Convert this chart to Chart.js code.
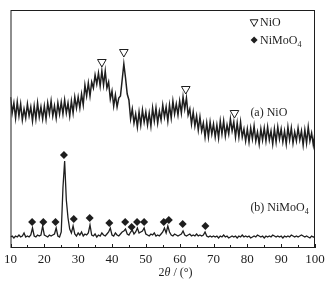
<!DOCTYPE html>
<html>
<head>
<meta charset="utf-8">
<script src="https://cdn.jsdelivr.net/npm/chart.js@4/dist/chart.umd.min.js"></script>
<style>
  html, body { margin: 0; padding: 0; background: #fff; }
  #wrap { width: 331px; height: 287px; }
</style>
</head>
<body>
<div id="wrap"><canvas id="xrd"></canvas></div>
<script>
// 2theta grid of the scans (degrees)
const angleStart = 10;
const angleStep = 0.5;

// (a) NiO scan, relative intensity (arb. units)
const nioCounts = [
  151, 135, 145, 130, 146, 132, 144, 128, 139, 130,
  144, 132, 141, 127, 142, 129, 145, 131, 141, 129,
  142, 129, 145, 134, 147, 132, 142, 130, 145, 134,
  146, 134, 148, 135, 145, 132, 147, 135, 151, 140,
  151, 140, 154, 143, 163, 152, 165, 152, 166, 160,
  173, 164, 175, 162, 177, 163, 177, 160, 166, 149,
  157, 142, 153, 141, 150, 152, 168, 184, 170, 154,
  148, 129, 139, 125, 134, 121, 136, 123, 138, 126,
  136, 123, 135, 122, 140, 127, 140, 125, 137, 128,
  143, 131, 141, 127, 143, 130, 147, 134, 144, 133,
  147, 135, 151, 139, 150, 133, 139, 124, 136, 122,
  132, 118, 131, 117, 125, 111, 125, 111, 126, 114,
  124, 111, 123, 110, 127, 114, 127, 112, 123, 114,
  129, 117, 126, 111, 125, 111, 126, 111, 119, 107,
  119, 106, 120, 109, 122, 107, 116, 104, 119, 108,
  120, 107, 121, 108, 117, 104, 119, 106, 121, 109,
  119, 106, 117, 104, 121, 108, 120, 105, 116, 107,
  120, 108, 117, 103, 118, 105, 121, 107, 115, 103,
  116
];

// (b) NiMoO4 scan, relative intensity (arb. units)
const nimoo4Counts = [
  11, 12, 10, 12, 11, 13, 11, 12, 15, 11,
  12, 11, 13, 20, 12, 11, 13, 12, 13, 22,
  13, 12, 11, 13, 12, 13, 14, 20, 12, 11,
  16, 60, 87, 48, 30, 19, 15, 22, 14, 12,
  15, 13, 16, 12, 14, 13, 15, 23, 13, 12,
  14, 11, 13, 12, 15, 13, 12, 14, 16, 20,
  13, 12, 15, 13, 12, 14, 16, 17, 19, 14,
  13, 16, 18, 14, 16, 20, 15, 16, 17, 20,
  14, 13, 12, 14, 13, 15, 12, 13, 12, 14,
  16, 20, 15, 22, 16, 13, 12, 14, 13, 12,
  13, 14, 17, 13, 12, 13, 14, 12, 13, 12,
  14, 12, 13, 12, 13, 16, 12, 11, 12, 11,
  12, 11, 12, 10, 12, 11, 13, 11, 12, 10,
  11, 12, 11, 12, 10, 12, 11, 13, 11, 12,
  11, 12, 10, 11, 12, 11, 13, 12, 11, 12,
  10, 12, 11, 12, 11, 13, 12, 11, 12, 11,
  12, 10, 12, 11, 12, 11, 13, 12, 11, 12,
  11, 12, 13, 12, 11, 12, 11, 10, 12, 11,
  11
];

// peak markers
const nioPeakAngles = [37.0, 43.5, 61.8, 76.2];
const nioPeakLevels = [186, 196, 159, 135];
const nimoo4PeakAngles = [16.4, 19.7, 23.3, 25.8, 28.7, 33.4, 39.2, 43.9, 45.8, 47.4, 49.5, 55.3, 56.8, 60.9, 67.6];
const nimoo4PeakLevels = [26, 26, 26, 93, 29, 30, 25, 26, 21, 26, 26, 26, 28, 24, 22];

const xTicks = [10, 20, 30, 40, 50, 60, 70, 80, 90, 100];

const serif = "'Liberation Serif', 'Times New Roman', serif";
const ink = '#1e1e1e';

const toPoints = counts => counts.map((v, i) => ({ x: angleStart + i * angleStep, y: v }));
const toMarks = (xs, ys) => xs.map((x, i) => ({ x: x, y: ys[i] }));

// frame, inward ticks, axis title, curve labels and legend
const decorations = {
  id: 'decorations',
  afterDraw(chart) {
    const { ctx, chartArea: a, scales: { x, y } } = chart;
    ctx.save();
    ctx.strokeStyle = ink;
    ctx.lineWidth = 1;
    ctx.strokeRect(a.left + 0.5, a.top + 0.5, a.right - a.left - 1, a.bottom - a.top - 1);

    // ticks every 5 degrees, pointing into the plot
    ctx.beginPath();
    for (let t = 10; t <= 100; t += 5) {
      const px = Math.round(x.getPixelForValue(t)) + 0.5;
      const len = t % 10 === 0 ? 4 : 3;
      ctx.moveTo(px, a.bottom);
      ctx.lineTo(px, a.bottom - len);
    }
    ctx.stroke();

    ctx.fillStyle = ink;
    ctx.textBaseline = 'middle';

    // x title: 2θ / (°)
    const p1 = '2', p3 = ' / (°)';
    ctx.font = 'italic 12px ' + serif;
    const wTheta = ctx.measureText('θ').width;
    ctx.font = '12px ' + serif;
    const w1 = ctx.measureText(p1).width, w3 = ctx.measureText(p3).width;
    let tx = x.getPixelForValue(58.8) - (w1 + wTheta + w3) / 2;
    const ty = 273;
    ctx.textAlign = 'left';
    ctx.fillText(p1, tx, ty); tx += w1;
    ctx.font = 'italic 12px ' + serif;
    ctx.fillText('θ', tx, ty); tx += wTheta;
    ctx.font = '12px ' + serif;
    ctx.fillText(p3, tx, ty);

    const subText = (main, sub, px, py) => {
      ctx.font = '12px ' + serif;
      ctx.fillText(main, px, py);
      const w = ctx.measureText(main).width;
      ctx.font = '8px ' + serif;
      ctx.fillText(sub, px + w, py + 4);
    };

    // curve labels
    ctx.font = '12px ' + serif;
    ctx.fillText('(a) NiO', x.getPixelForValue(80.9), y.getPixelForValue(135));
    subText('(b) NiMoO', '4', x.getPixelForValue(80.9), y.getPixelForValue(40));

    // legend
    const lx = x.getPixelForValue(82.0);
    ctx.fillStyle = '#fff';
    Chart.helpers.drawPoint(ctx, { pointStyle: 'triangle', rotation: 180, radius: 4.5, borderWidth: 1 }, lx, y.getPixelForValue(226));
    ctx.fillStyle = ink;
    Chart.helpers.drawPoint(ctx, { pointStyle: 'rectRot', rotation: 0, radius: 3.5, borderWidth: 0 }, lx, y.getPixelForValue(208));
    ctx.font = '12px ' + serif;
    ctx.fillText('NiO', lx + 6, y.getPixelForValue(225));
    subText('NiMoO', '4', lx + 6, y.getPixelForValue(207));
    ctx.restore();
  }
};

const config_xrd = {
  type: 'line',
  data: {
    datasets: [
      {
        label: '(a) NiO',
        data: toPoints(nioCounts),
        borderColor: ink,
        borderWidth: 1.5,
        pointRadius: 0,
        tension: 0,
      },
      {
        label: '(b) NiMoO4',
        data: toPoints(nimoo4Counts),
        borderColor: ink,
        borderWidth: 1.3,
        pointRadius: 0,
        tension: 0,
      },
      {
        type: 'scatter',
        label: 'NiO',
        data: toMarks(nioPeakAngles, nioPeakLevels),
        pointStyle: 'triangle',
        rotation: 180,
        pointRadius: 5,
        backgroundColor: '#fff',
        borderColor: ink,
        borderWidth: 1,
      },
      {
        type: 'scatter',
        label: 'NiMoO4',
        data: toMarks(nimoo4PeakAngles, nimoo4PeakLevels),
        pointStyle: 'rectRot',
        pointRadius: 4,
        backgroundColor: ink,
        borderColor: ink,
        borderWidth: 0,
      },
    ]
  },
  options: {
    responsive: false,
    animation: false,
    layout: { padding: { left: 8, right: 16, top: 10, bottom: 19 } },
    plugins: {
      legend: { display: false },
      title: { display: false },
      tooltip: { enabled: false },
    },
    scales: {
      x: {
        type: 'linear',
        min: 10,
        max: 100,
        afterBuildTicks: scale => { scale.ticks = xTicks.map(v => ({ value: v })); },
        afterFit: scale => { scale.height = 20; },
        ticks: {
          color: ink,
          padding: 4,
          font: { family: serif, size: 13 },
        },
        grid: { display: false, drawTicks: false },
        border: { display: false },
      },
      y: {
        display: false,
        min: 0,
        max: 238,
      },
    }
  },
  plugins: [decorations],
};

const canvas = document.getElementById('xrd');
canvas.width = 331;
canvas.height = 287;
const xrd = new Chart(canvas, config_xrd);
</script>
</body>
</html>
